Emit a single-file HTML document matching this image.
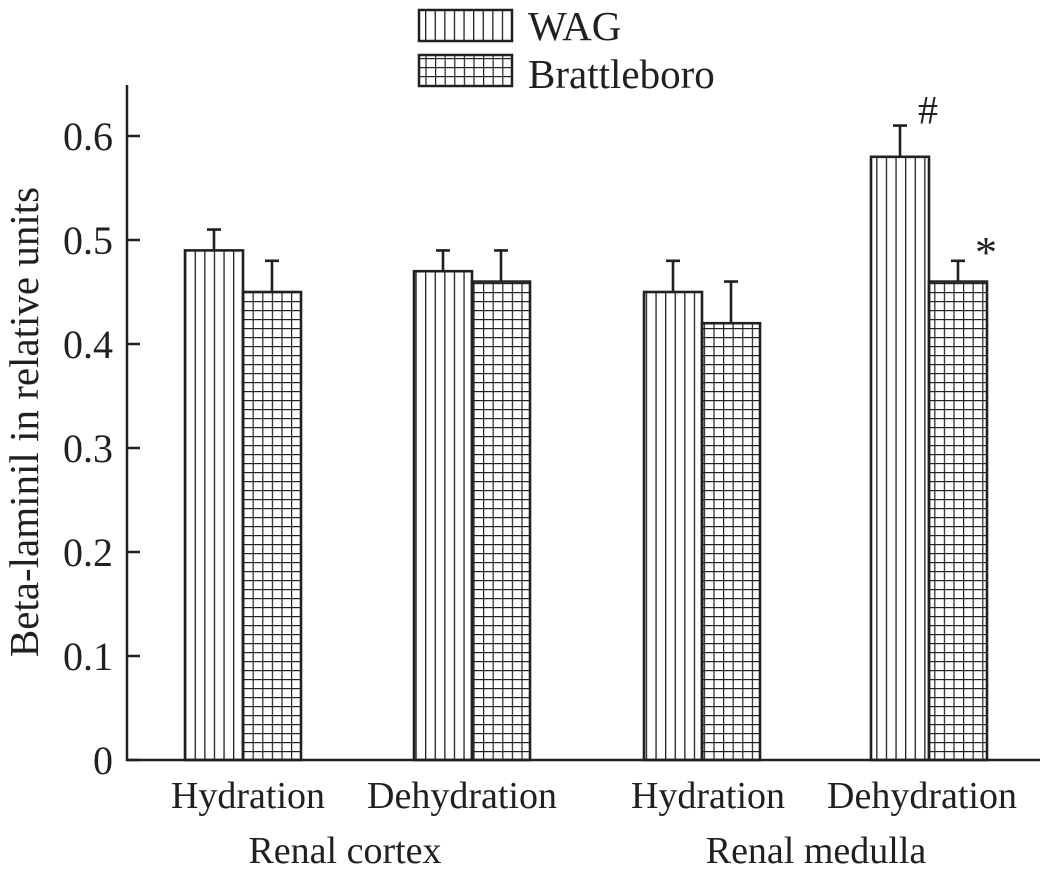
<!DOCTYPE html>
<html><head><meta charset="utf-8"><style>
body{margin:0;background:#fff}
svg text{font-family:"Liberation Serif",serif;fill:#231f20}
</style></head><body>
<svg width="1045" height="873" viewBox="0 0 1045 873">
<defs>
<pattern id="vert" patternUnits="userSpaceOnUse" width="9.6" height="10" x="185" y="0">
<line x1="0" y1="0" x2="0" y2="10" stroke="#231f20" stroke-width="2.6"/>
</pattern>
<pattern id="grid" patternUnits="userSpaceOnUse" width="9.6" height="9" x="243" y="760">
<line x1="0" y1="0" x2="0" y2="9" stroke="#231f20" stroke-width="2.4"/>
<line x1="0" y1="0" x2="9.6" y2="0" stroke="#231f20" stroke-width="2.4"/>
</pattern>
</defs>
<g id="axes"></g>
<g id="bars"></g>
<g>
<rect x="419" y="10" width="93" height="31" fill="url(#vert)" stroke="#231f20" stroke-width="2.5"/>
<text x="528" y="40" font-size="41">WAG</text>
<rect x="419" y="55" width="93" height="31" fill="url(#grid)" stroke="#231f20" stroke-width="2.5"/>
<text x="528" y="88" font-size="41">Brattleboro</text>
</g>
<text transform="translate(38,422) rotate(-90)" text-anchor="middle" font-size="41">Beta-laminil in relative units</text>
<text x="345" y="863" text-anchor="middle" font-size="38">Renal cortex</text>
<text x="816" y="863" text-anchor="middle" font-size="38">Renal medulla</text>
</svg>
<script>
const categories=["Hydration","Dehydration","Hydration","Dehydration"];
const wagValues=[0.49,0.47,0.45,0.58];
const wagErrors=[0.02,0.02,0.03,0.03];
const brattValues=[0.45,0.46,0.42,0.46];
const brattErrors=[0.03,0.03,0.04,0.02];
const yTicks=[0,0.1,0.2,0.3,0.4,0.5,0.6];
const yTickLabels=["0","0.1","0.2","0.3","0.4","0.5","0.6"];
const markers=["","","","#"];
const brattMarkers=["","","","*"];
const NS="http://www.w3.org/2000/svg";
const y0=760,pxPer=1040;
const y=v=>y0-v*pxPer;
const centers=[243,472,702,929];
const labelShift=[5,-10,6,-7];
const x=i=>centers[i];
const bw=58;
function mk(tag,attrs,parent){const e=document.createElementNS(NS,tag);for(const k in attrs)e.setAttribute(k,attrs[k]);parent.appendChild(e);return e;}
const ax=document.getElementById('axes');
let l=mk('line',{x1:127,y1:85,x2:127,y2:761,stroke:'#231f20','stroke-width':2.5},ax);


l=mk('line',{x1:126,y1:760,x2:1040,y2:760,stroke:'#231f20','stroke-width':2.5},ax);


yTicks.forEach((t,i)=>{
 const tk=mk('line',{x1:127,y1:y(t),x2:140,y2:y(t),stroke:'#231f20','stroke-width':2.5},ax);
 
 
 const tx=mk('text',{x:113,y:y(t)+14,'text-anchor':'end','font-size':40},ax);
 tx.textContent=yTickLabels[i];
 
 
});
const bg=document.getElementById('bars');
function bar(xl,v,e,fill,name,mark){
 const r=mk('rect',{x:xl,y:y(v),width:bw,height:y0-y(v),fill:fill,stroke:'#231f20','stroke-width':2.6},bg);
 
 
 const cx=xl+bw/2;
 const eb=mk('path',{d:`M${cx},${y(v)} V${y(v+e)} M${cx-7},${y(v+e)} H${cx+7}`,stroke:'#231f20','stroke-width':2.6,fill:'none'},bg);
 
 
 if(mark){const t=mk('text',{x:cx+28,y:y(v+e)+(mark=='*'?6:-2),'text-anchor':'middle','font-size':mark=='*'?44:40},bg);t.textContent=mark;
 
 }
}
categories.forEach((c,i)=>{
 bar(x(i)-bw,wagValues[i],wagErrors[i],'url(#vert)','bar-wag-'+i,markers[i]);
 bar(x(i),brattValues[i],brattErrors[i],'url(#grid)','bar-brattleboro-'+i,brattMarkers[i]);
 const t=mk('text',{x:x(i)+labelShift[i],y:808,'text-anchor':'middle','font-size':38},bg);
 t.textContent=c;
 
 
});
</script>
</body></html>
